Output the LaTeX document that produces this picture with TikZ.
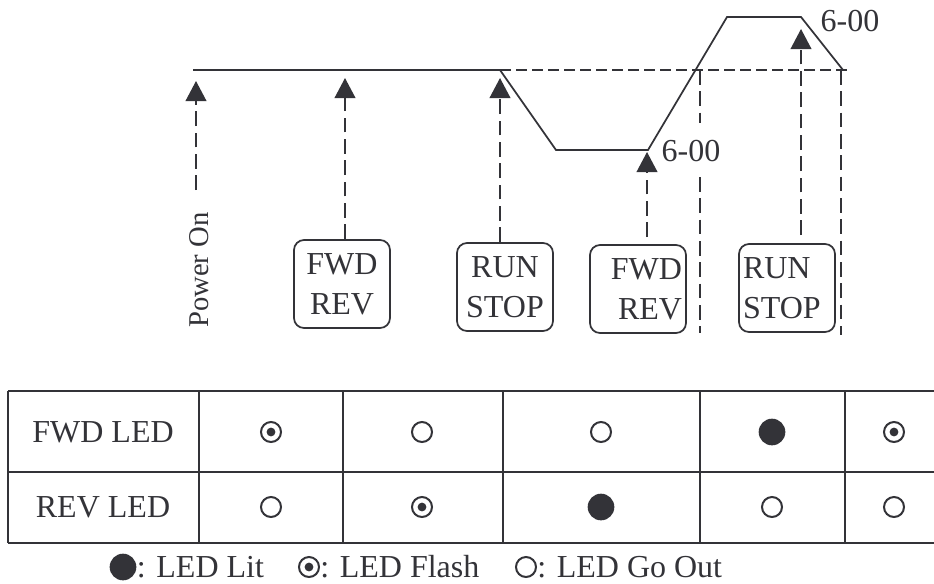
\documentclass[tikz,border=0pt]{standalone}
\usepackage{fontspec}
\setmainfont{Liberation Serif}
\usetikzlibrary{arrows.meta,positioning}
\definecolor{ledgray}{RGB}{51,51,56}
\begin{document}
\begin{tikzpicture}[x=0.75pt,y=-0.75pt,color=ledgray,font=\fontsize{24}{30}\selectfont,
  wave/.style={line width=1.3pt},
  guide/.style={line width=1.3pt,dash pattern=on 8pt off 4pt},
  drop/.style={line width=1.3pt,dash pattern=on 11pt off 5pt},
  push/.style={drop,-{Triangle[length=15pt,width=15.5pt]}},
  btn/.style={draw,line width=1.3pt,rounded corners=7.5pt,minimum width=72pt,minimum height=66pt,align=center,inner sep=2pt},
  grid/.style={line width=2pt},
  lit/.style={circle,fill,minimum size=20pt,inner sep=0pt},
  off/.style={circle,draw,line width=1.5pt,minimum size=15pt,inner sep=0pt},
  flash/.style={off,path picture={\fill (path picture bounding box.center) circle (3.3pt);}}]
\useasboundingbox (0,0) rectangle (934,583);
\draw[wave] (193,70) -- (500,70) coordinate (dn) -- (556,150) -- (648,150) coordinate (lo)
  -- (727,17) -- (801,17) coordinate (hi) -- (843,70) coordinate (stop);
\draw[guide] (dn) -- (850,70) coordinate (gend);
\node[anchor=west] (t1) at (657,151) {6-00};
\node[anchor=west] (t2) at (816,21) {6-00};
\coordinate (v1) at (700,70); \coordinate (v1m) at (700,123);
\coordinate (v1n) at (700,177); \coordinate (v1e) at (700,333);
\coordinate (v2) at (841,70); \coordinate (v2e) at (841,335);
\draw[drop] (v1) -- (v1m) (v1n) -- (v1e) (v2) -- (v2e);
\node[rotate=90,font=\fontsize{21.5}{26}\selectfont] (pwr) at (199,270) {Power On};
\node[btn] (fr1) at (342,284) {FWD\\REV};
\node[btn] (rs1) at (505,287) {RUN\\STOP};
\node[btn,text width=66pt,align=right] (fr2) at (638,289) {FWD\\REV};
\node[btn,text width=66pt,align=left] (rs2) at (787,288) {RUN\\STOP};
\coordinate (pw) at (196,190);
\coordinate (a1) at (196,81); \coordinate (a2) at (345,78); \coordinate (a3) at (500,78);
\coordinate (a4) at (647,152); \coordinate (a5) at (801,29);
\draw[push] (pw) -- (a1);
\draw[push] (fr1.north -| a2) -- (a2);
\draw[push] (rs1.north -| a3) -- (a3);
\draw[push] (fr2.north -| a4) ++(0,-7) -- (a4);
\draw[push] (rs2.north -| a5) ++(0,-8) -- (a5);
\draw[grid] (8,391) -- (934,391) (8,472) -- (934,472) (8,543) -- (934,543);
\foreach \x in {8,199,343,503,700,845} \draw[grid] (\x,391) -- (\x,543);
\node (fl) at (103,432) {FWD LED};
\node (rl) at (103,507) {REV LED};
\foreach \x/\s [count=\i] in {271/flash,422/off,601/off,772/lit,894/flash} \node[\s] (f\i) at (\x,432) {};
\foreach \x/\s [count=\i] in {271/off,422/flash,601/lit,772/off,894/off} \node[\s] (r\i) at (\x,507) {};
\node[lit] (k1) at (123,567) {};
\node[right=0pt of k1,inner sep=0pt] (k1t) {: LED Lit};
\node[flash] (k2) at (309,567) {};
\node[right=0pt of k2,inner sep=0pt] (k2t) {: LED Flash};
\node[off] (k3) at (526,567) {};
\node[right=0pt of k3,inner sep=0pt] (k3t) {: LED Go Out};
\end{tikzpicture}
\end{document}
